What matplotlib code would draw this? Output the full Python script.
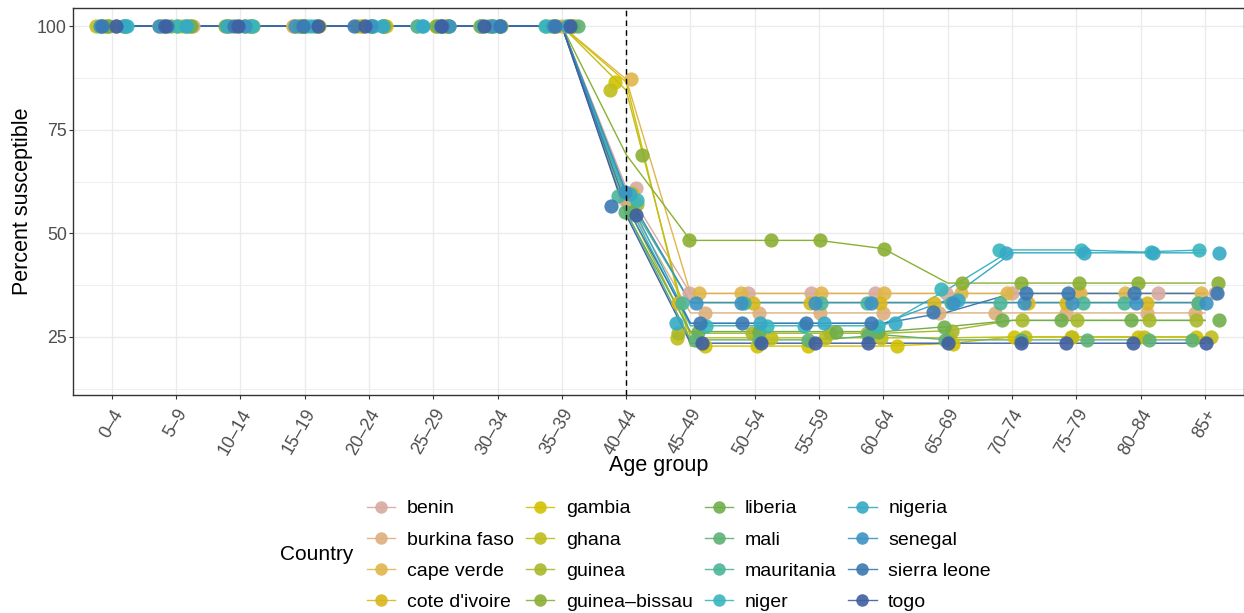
import numpy as np
import matplotlib
matplotlib.use("Agg")
import matplotlib.pyplot as plt
from matplotlib.lines import Line2D

plt.rcParams["font.family"] = ["Liberation Sans", "DejaVu Sans"]

age_groups = ["0–4", "5–9", "10–14", "15–19", "20–24", "25–29", "30–34", "35–39",
              "40–44", "45–49", "50–54", "55–59", "60–64", "65–69", "70–74",
              "75–79", "80–84", "85+"]

countries = ["benin", "burkina faso", "cape verde", "cote d'ivoire", "gambia", "ghana",
             "guinea", "guinea–bissau", "liberia", "mali", "mauritania", "niger",
             "nigeria", "senegal", "sierra leone", "togo"]

colors = ["#D8AAA0", "#DDB07E", "#E0B64B", "#D9B61B", "#D2C102", "#C0BD1A",
          "#A8B82A", "#8BB033", "#6FAE4A", "#5DB275", "#4BB597", "#38B6BE",
          "#36A9C6", "#3C93C3", "#3B79B3", "#3F5FA2"]

# percent susceptible per age group
benin        = [100, 100, 100, 100, 100, 100, 100, 100, 61.0, 35.5, 35.5, 35.5, 35.5, 35.5, 35.5, 35.5, 35.5, 35.5]
burkina_faso = [100, 100, 100, 100, 100, 100, 100, 100, 58.0, 30.8, 30.8, 30.8, 30.8, 30.8, 30.8, 30.8, 30.8, 30.8]
cape_verde   = [100, 100, 100, 100, 100, 100, 100, 100, 87.2, 35.5, 35.5, 35.5, 35.5, 35.5, 35.5, 35.5, 35.5, 35.5]
cote_divoire = [100, 100, 100, 100, 100, 100, 100, 100, 59.8, 33.3, 33.3, 33.3, 33.3, 33.3, 33.3, 33.3, 33.3, 33.3]
gambia       = [100, 100, 100, 100, 100, 100, 100, 100, 86.5, 22.8, 22.8, 22.8, 22.8, 23.4, 25.0, 25.0, 25.0, 25.0]
ghana        = [100, 100, 100, 100, 100, 100, 100, 100, 84.5, 24.8, 24.8, 24.8, 24.8, 24.8, 25.0, 25.0, 25.0, 25.0]
guinea       = [100, 100, 100, 100, 100, 100, 100, 100, 57.0, 25.9, 25.9, 25.9, 25.9, 26.5, 29.0, 29.0, 29.0, 29.0]
guinea_bissau = [100, 100, 100, 100, 100, 100, 100, 100, 69.0, 48.3, 48.3, 48.3, 46.3, 38.0, 38.0, 38.0, 38.0, 38.0]
liberia      = [100, 100, 100, 100, 100, 100, 100, 100, 55.1, 26.3, 26.3, 26.3, 26.3, 27.5, 29.0, 29.0, 29.0, 29.0]
mali         = [100, 100, 100, 100, 100, 100, 100, 100, 55.2, 24.3, 24.3, 24.3, 25.5, 24.3, 24.3, 24.3, 24.3, 24.3]
mauritania   = [100, 100, 100, 100, 100, 100, 100, 100, 59.0, 33.3, 33.3, 33.3, 33.3, 33.3, 33.3, 33.3, 33.3, 33.3]
niger        = [100, 100, 100, 100, 100, 100, 100, 100, 58.0, 27.7, 27.7, 27.7, 27.7, 36.5, 46.0, 46.0, 45.5, 46.0]
nigeria      = [100, 100, 100, 100, 100, 100, 100, 100, 59.5, 28.3, 28.3, 28.3, 28.3, 34.0, 45.3, 45.3, 45.3, 45.3]
senegal      = [100, 100, 100, 100, 100, 100, 100, 100, 60.0, 33.3, 33.3, 33.3, 33.3, 33.3, 33.3, 33.3, 33.3, 33.3]
sierra_leone = [100, 100, 100, 100, 100, 100, 100, 100, 56.6, 28.3, 28.3, 28.3, 28.3, 31.0, 35.5, 35.5, 35.5, 35.5]
togo         = [100, 100, 100, 100, 100, 100, 100, 100, 54.4, 23.5, 23.5, 23.5, 23.5, 23.5, 23.5, 23.5, 23.5, 23.5]

series = [benin, burkina_faso, cape_verde, cote_divoire, gambia, ghana, guinea,
          guinea_bissau, liberia, mali, mauritania, niger, nigeria, senegal,
          sierra_leone, togo]

fig = plt.figure(figsize=(12.44, 6.13), dpi=100)
ax = fig.add_axes([0.0587, 0.3556, 0.941, 0.631])

x = np.arange(len(age_groups))
rng = np.random.default_rng(7)  # horizontal jitter for points only

for vals, col in zip(series, colors):
    ax.plot(x, vals, color=col, lw=1.0, zorder=2)
for vals, col in zip(series, colors):
    jx = x + rng.uniform(-0.27, 0.27, len(x))
    ax.scatter(jx, vals, s=105, color=col, alpha=0.9, lw=0, zorder=3)

ax.axvline(8, color="black", ls=(0, (4, 3)), lw=1.0, zorder=4)

ax.set_xlim(-0.6, len(age_groups) - 0.4)
ax.set_ylim(11, 104.3)
ax.set_xticks(x)
ax.set_xticklabels(age_groups, rotation=60, ha="right", rotation_mode="anchor",
                   fontsize=12.8, color="#4D4D4D")
ax.set_yticks([25, 50, 75, 100])
ax.set_yticks([12.5, 37.5, 62.5, 87.5], minor=True)
ax.tick_params(axis="y", labelsize=12.8, labelcolor="#4D4D4D", length=3,
               color="#333333", pad=1.5)
ax.tick_params(axis="x", length=3, color="#333333", pad=5)
ax.tick_params(axis="y", which="minor", length=0)
ax.grid(True, which="major", color="#EBEBEB", lw=1.0)
ax.grid(True, which="minor", axis="y", color="#EBEBEB", lw=0.6)
ax.set_axisbelow(True)
for sp in ax.spines.values():
    sp.set_color("#333333")
    sp.set_linewidth(1.0)

ax.set_xlabel("Age group", fontsize=15.5, labelpad=-2)
ax.set_ylabel("Percent susceptible", fontsize=15.5, labelpad=3)

handles = [Line2D([0], [0], color=c, lw=1.0, marker="o", markersize=9,
                  markeredgewidth=0, alpha=0.9) for c in colors]
fig.legend(handles, countries, ncol=4, loc="center left",
           bbox_to_anchor=(367 / 1244, 1 - 555.5 / 613), frameon=False,
           fontsize=14, handlelength=1.45, handletextpad=0.6,
           columnspacing=0.62, labelspacing=0.7, borderaxespad=0, borderpad=0)
fig.text(280 / 1244, 1 - 554 / 613, "Country", fontsize=15, va="center", ha="left")

fig.savefig("out.png", dpi=100)
